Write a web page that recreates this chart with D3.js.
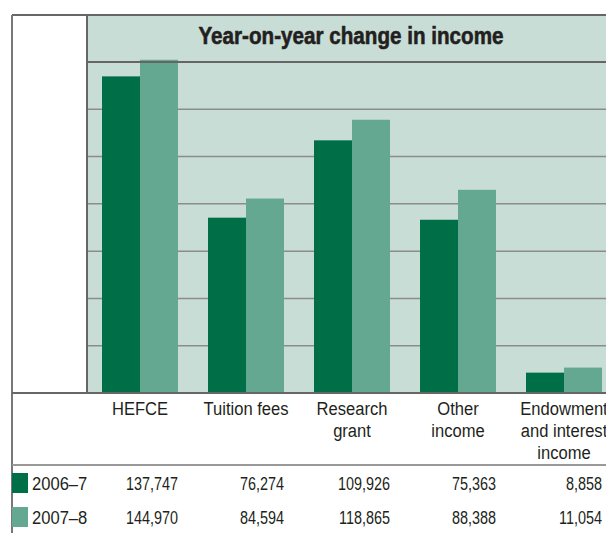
<!DOCTYPE html>
<html lang="en">
<head>
    <meta charset="UTF-8">
    <title>Year-on-year change in income</title>
    <script src="https://cdn.jsdelivr.net/npm/d3@7/dist/d3.min.js"></script>
    <style>
        body { margin: 0; background: #ffffff; }
        text { font-family: "Liberation Sans", Arial, sans-serif; }
    </style>
</head>
<body>
<div id="mainContent"></div>
<script>
    // data
    const categories = ["HEFCE", "Tuition fees", "Research grant", "Other income", "Endowment and interest income"];
    const categoryLines = [["HEFCE"], ["Tuition fees"], ["Research", "grant"], ["Other", "income"], ["Endowment", "and interest", "income"]];
    const years = ["2006–7", "2007–8"];
    const values2006 = [137747, 76274, 109926, 75363, 8858];
    const values2007 = [144970, 84594, 118865, 88388, 11054];

    const width = 606, height = 533;
    const frame = {left: 12, top: 15, plotLeft: 87, titleBottom: 62, base: 393, tableLine: 465, right: 606};
    const darkGreen = "#006f47", lightGreen = "#64a891", panel = "#c8ddd5", ink = "#231f20";

    const color = function (year) {
        return year === years[0] ? darkGreen : lightGreen;
    };

    // narrow the text like the condensed face of the original
    function squeeze(sel, factor) {
        sel.each(function () {
            const len = this.getComputedTextLength();
            d3.select(this)
                .attr("textLength", len * factor)
                .attr("lengthAdjust", "spacingAndGlyphs");
        });
    }

    const rows = categories.map((c, i) => ({key: c, lines: categoryLines[i], vals: [values2006[i], values2007[i]]}));

    let svg = d3.select("#mainContent")
        .append("svg")
        .attr("width", width)
        .attr("height", height);

    // scales
    let xScale = d3.scaleBand()
        .domain(categories)
        .range([frame.plotLeft, frame.plotLeft + 5 * 106])
        .paddingInner(30 / 106)
        .paddingOuter(15 / 106);

    let xSub = d3.scaleBand()
        .domain(years)
        .range([0, xScale.bandwidth()]);

    let yScale = d3.scaleLinear()
        .domain([0, 144000])
        .range([frame.base, frame.titleBottom]);

    // plot panel
    svg.append("rect")
        .attr("x", frame.plotLeft)
        .attr("y", frame.top)
        .attr("width", frame.right - frame.plotLeft)
        .attr("height", frame.base - frame.top)
        .attr("fill", panel);

    // gridlines
    const gridVals = d3.range(1, 7).map(i => yScale.domain()[1] * i / 7);
    svg.append("g")
        .selectAll("line")
        .data(gridVals).enter()
        .append("line")
        .attr("x1", frame.plotLeft)
        .attr("x2", frame.right)
        .attr("y1", d => yScale(d))
        .attr("y2", d => yScale(d))
        .attr("stroke", "#8c8c8c")
        .attr("stroke-width", 1.5);

    // bars
    let g = svg.append("g").attr("id", "bars");
    g.selectAll(".group")
        .data(rows).enter()
        .append("g")
        .attr("class", "group")
        .attr("transform", d => "translate(" + xScale(d.key) + ",0)")
        .selectAll("rect")
        .data(d => d.vals.map((v, i) => ({year: years[i], value: v}))).enter()
        .append("rect")
        .attr("x", d => xSub(d.year))
        .attr("width", xSub.bandwidth())
        .attr("y", d => yScale(d.value))
        .attr("height", d => yScale(0) - yScale(d.value))
        .attr("fill", d => color(d.year));

    // frame lines
    const lines = [
        [frame.left, frame.top, frame.right, frame.top, "#666"],
        [frame.left, frame.top, frame.left, height, "#777"],
        [frame.plotLeft, frame.top, frame.plotLeft, frame.base, "#666"],
        [frame.plotLeft, frame.titleBottom, frame.right, frame.titleBottom, "#666"],
        [frame.left, frame.base, frame.right, frame.base, "#666"],
        [frame.left, frame.tableLine, frame.right, frame.tableLine, "#999"]
    ];
    svg.append("g")
        .selectAll("line")
        .data(lines).enter()
        .append("line")
        .attr("x1", d => d[0]).attr("y1", d => d[1])
        .attr("x2", d => d[2]).attr("y2", d => d[3])
        .attr("stroke", d => d[4])
        .attr("stroke-width", 2);

    // title
    svg.append("text")
        .text("Year-on-year change in income")
        .attr("x", 351)
        .attr("y", 44)
        .attr("text-anchor", "middle")
        .attr("font-size", 24)
        .attr("font-weight", "bold")
        .attr("fill", ink)
        .attr("stroke", ink)
        .attr("stroke-width", 0.6)
        .attr("textLength", 305)
        .attr("lengthAdjust", "spacingAndGlyphs");

    // category labels, one text per line
    const labelData = [];
    rows.forEach(d => d.lines.forEach((l, i) => labelData.push({
        l: l, x: xScale(d.key) + xScale.bandwidth() / 2, y: 415 + i * 22
    })));
    svg.append("g")
        .selectAll("text")
        .data(labelData).enter()
        .append("text")
        .text(d => d.l)
        .attr("x", d => d.x)
        .attr("y", d => d.y)
        .attr("text-anchor", "middle")
        .attr("font-size", 18)
        .attr("fill", ink)
        .call(squeeze, 0.92);

    // table rows
    const rowY = [490, 524];
    const fmt = d3.format(",");
    years.forEach((yr, r) => {
        svg.append("rect")
            .attr("x", frame.left)
            .attr("y", rowY[r] - 17)
            .attr("width", 16)
            .attr("height", 20)
            .attr("fill", color(yr));

        svg.append("text")
            .text(yr)
            .attr("x", 32)
            .attr("y", rowY[r])
            .attr("font-size", 18)
            .attr("fill", ink)
            .call(squeeze, 0.92);

        svg.append("g")
            .selectAll("text")
            .data(rows).enter()
            .append("text")
            .text(d => fmt(d.vals[r]))
            .attr("x", d => xScale(d.key) + xScale.bandwidth())
            .attr("y", rowY[r])
            .attr("text-anchor", "end")
            .attr("font-size", 18)
            .attr("fill", ink)
            .call(squeeze, 0.8);
    });
</script>
</body>
</html>
